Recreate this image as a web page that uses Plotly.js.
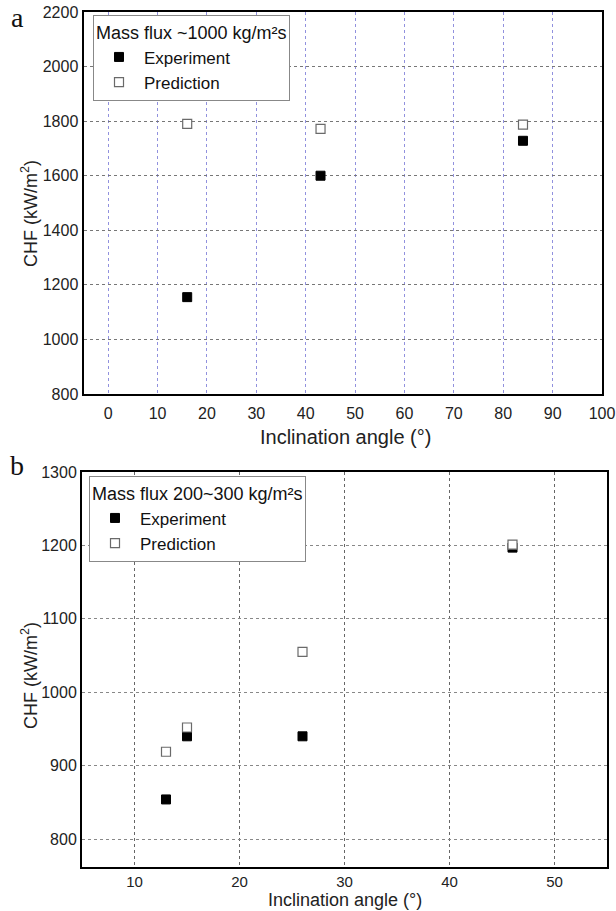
<!DOCTYPE html>
<html>
<head>
<meta charset="utf-8">
<script src="https://cdn.plot.ly/plotly-3.0.1.min.js"></script>
<style>html,body{margin:0;padding:0;background:#fff;}#chart{width:616px;height:911px;}</style>
</head>
<body>
<div id="chart"></div>
<script>
// Panel a: mass flux ~1000 kg/m²s
const angleA = [16, 43, 84];
const expA = [1155, 1600, 1728];
const predA = [1790, 1772, 1787];
// Panel b: mass flux 200~300 kg/m²s
const angleB = [13, 15, 26, 46];
const expB = [854, 940, 940, 1197];
const predB = [919, 952, 1055, 1201];

const ticksAx = [0, 10, 20, 30, 40, 50, 60, 70, 80, 90, 100];
const ticksAy = [800, 1000, 1200, 1400, 1600, 1800, 2000, 2200];
const ticksBx = [10, 20, 30, 40, 50];
const ticksBy = [800, 900, 1000, 1100, 1200, 1300];

const legendTitleA = 'Mass flux ~1000 kg/m²s';
const legendTitleB = 'Mass flux 200~300 kg/m²s';
const xTitle = 'Inclination angle (°)';
const yTitle = 'CHF (kW/m<sup>2</sup>)';

const FONT = 'Liberation Sans, Arial, sans-serif';
const SERIF = 'Liberation Serif, Times New Roman, serif';
const W = 616, H = 911;

const expMarker = {symbol: 'square', size: 9, color: '#000', line: {color: '#000', width: 1}};
const predMarker = {symbol: 'square', size: 9, color: '#fff', line: {color: '#6a6a6a', width: 1.2}};

const traces = [
  {x: angleA, y: expA, type: 'scatter', mode: 'markers', name: 'Experiment', marker: expMarker, xaxis: 'x', yaxis: 'y', legend: 'legend'},
  {x: angleA, y: predA, type: 'scatter', mode: 'markers', name: 'Prediction', marker: predMarker, xaxis: 'x', yaxis: 'y', legend: 'legend'},
  {x: angleB, y: expB, type: 'scatter', mode: 'markers', name: 'Experiment', marker: expMarker, xaxis: 'x2', yaxis: 'y2', legend: 'legend2'},
  {x: angleB, y: predB, type: 'scatter', mode: 'markers', name: 'Prediction', marker: predMarker, xaxis: 'x2', yaxis: 'y2', legend: 'legend2'}
];

function axisBase(extra) {
  return Object.assign({
    showline: true, linecolor: '#000', linewidth: 2, mirror: true,
    ticks: '', zeroline: false, showgrid: true, griddash: '3px,3px', gridwidth: 1,
    tickfont: {family: FONT, size: 16, color: '#222'},
    tickmode: 'array'
  }, extra);
}

const legendBase = {
  bgcolor: '#fff', bordercolor: '#888', borderwidth: 1,
  font: {family: FONT, size: 17, color: '#111'},
  xanchor: 'left', yanchor: 'top', itemwidth: 40,
  tracegroupgap: 0
};

function annot(text, xpx, ypx, opts) {
  return Object.assign({
    text: text, xref: 'paper', yref: 'paper', x: xpx / W, y: 1 - ypx / H,
    xanchor: 'center', yanchor: 'middle', showarrow: false, borderpad: 0,
    font: {family: FONT, size: 18, color: '#222'}
  }, opts || {});
}

const layout = {
  width: W, height: H,
  margin: {l: 0, r: 0, t: 0, b: 0},
  paper_bgcolor: '#fff', plot_bgcolor: '#fff',
  font: {family: FONT, color: '#222'},
  showlegend: true,
  xaxis: axisBase({
    domain: [83.5 / W, 602 / W], range: [-5, 100], anchor: 'y',
    tickvals: ticksAx, ticktext: ticksAx.map(String), ticklabelstandoff: 4,
    gridcolor: 'rgb(145,145,222)'
  }),
  yaxis: axisBase({
    domain: [1 - 394 / H, 1 - 12 / H], range: [800, 2200], anchor: 'x',
    tickvals: ticksAy, ticktext: ticksAy.map(String),
    gridcolor: '#777'
  }),
  xaxis2: axisBase({
    domain: [82 / W, 607 / W], range: [5, 55], anchor: 'y2',
    tickvals: ticksBx, ticktext: ticksBx.map(String), ticklabelstandoff: 0,
    tickfont: {family: FONT, size: 15, color: '#222'},
    gridcolor: '#666'
  }),
  yaxis2: axisBase({
    domain: [1 - 867 / H, 1 - 472 / H], range: [762, 1300], anchor: 'x2',
    tickvals: ticksBy, ticktext: ticksBy.map(String),
    gridcolor: '#888'
  }),
  legend: Object.assign({}, legendBase, {
    x: 93 / W, y: 1 - 15 / H,
    title: {text: legendTitleA, font: {family: FONT, size: 18, color: '#111'}}
  }),
  legend2: Object.assign({}, legendBase, {
    x: 89 / W, y: 1 - 476 / H,
    title: {text: legendTitleB, font: {family: FONT, size: 18, color: '#111'}}
  }),
  annotations: [
    annot('a', 17, 17, {font: {family: SERIF, size: 28, color: '#111'}}),
    annot('b', 17, 466, {font: {family: SERIF, size: 28, color: '#111'}}),
    annot(xTitle, 345, 437, {font: {family: FONT, size: 20, color: '#222'}}),
    annot(xTitle, 345, 900, {font: {family: FONT, size: 18, color: '#222'}}),
    annot(yTitle, 29, 214, {textangle: -90}),
    annot(yTitle, 29, 676, {textangle: -90})
  ]
};

Plotly.newPlot('chart', traces, layout, {staticPlot: true, displayModeBar: false});
</script>
</body>
</html>
